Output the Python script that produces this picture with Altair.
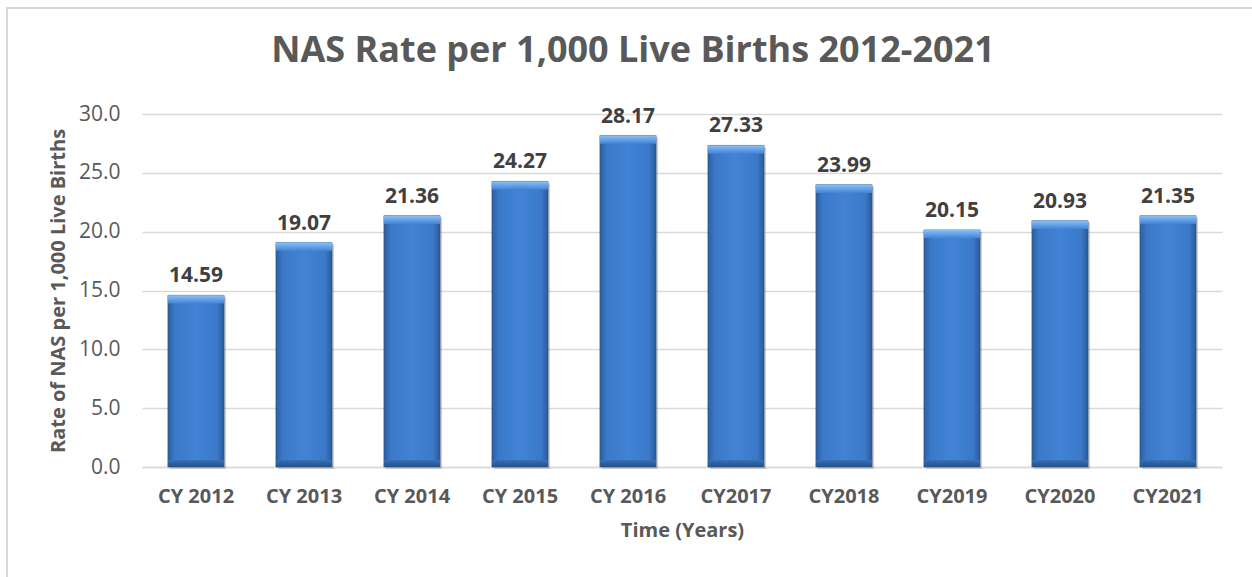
import altair as alt
import pandas as pd

# NAS rate per 1,000 live births, by calendar year
years = ["CY 2012", "CY 2013", "CY 2014", "CY 2015", "CY 2016",
         "CY2017", "CY2018", "CY2019", "CY2020", "CY2021"]
rates = [14.59, 19.07, 21.36, 24.27, 28.17, 27.33, 23.99, 20.15, 20.93, 21.35]
title_text = ["NAS Rate per 1,000 Live Births 2012-2021"]

df = pd.DataFrame({"year": years, "rate": rates})

FONT = "Open Sans"
GRAY = "#595959"

x_enc = alt.X(
    "year:N", sort=years,
    scale=alt.Scale(paddingInner=0.48, paddingOuter=0.24),
    axis=alt.Axis(title="Time (Years)", labelAngle=0, labelFontWeight="bold",
                  labelFontSize=20, labelColor=GRAY, labelPadding=19,
                  titleFontSize=20, titleColor=GRAY, titlePadding=14,
                  ticks=False, domainColor="#d9d9d9", domainWidth=1.5),
)
y_scale = alt.Scale(domain=[0, 30])
y_enc = alt.Y(
    "rate:Q", scale=y_scale,
    axis=alt.Axis(title="Rate of NAS per 1,000 Live Births", values=[0, 5, 10, 15, 20, 25, 30],
                  format=".1f", labelFontSize=21, labelColor=GRAY, labelPadding=22,
                  titleFontSize=20, titleColor=GRAY, titlePadding=10,
                  ticks=False, domain=False, gridColor="#d9d9d9", gridWidth=1.3),
)

base = alt.Chart(df)

# outer frame around the whole chart
frame = alt.Chart(pd.DataFrame({"k": [0]})).mark_rect(
    fill="transparent", stroke="#d9d9d9", strokeWidth=2
).encode(x=alt.value(-135), x2=alt.value(1200), y=alt.value(-106), y2=alt.value(600))

# chart heading, centred over the chart box
heading = alt.Chart(pd.DataFrame({"t": title_text})).mark_text(
    fontSize=36, fontWeight="bold", color=GRAY, font=FONT, align="center", baseline="middle"
).encode(x=alt.value(491), y=alt.value(-63), text="t:N")

shadow = base.mark_bar(color="#7f7f7f", opacity=0.35, xOffset=2, yOffset=2).encode(
    x=x_enc, y=y_enc
)

body = base.mark_bar(
    color=alt.Gradient(
        gradient="linear", x1=0, x2=1, y1=0, y2=0,
        stops=[
            alt.GradientStop(offset=0, color="#2c5e9e"),
            alt.GradientStop(offset=0.12, color="#3b79c8"),
            alt.GradientStop(offset=0.5, color="#4183d5"),
            alt.GradientStop(offset=0.88, color="#3b79c8"),
            alt.GradientStop(offset=1, color="#2a5896"),
        ],
    ),
    stroke="#2a5590", strokeWidth=0.6,
).encode(x=x_enc, y=y_enc)

# bevelled highlight across the top of each bar
cap = base.transform_calculate(cap_lo="datum.rate - 0.7").mark_bar(
    color=alt.Gradient(
        gradient="linear", x1=0, x2=0, y1=0, y2=1,
        stops=[
            alt.GradientStop(offset=0, color="#8cc0f5"),
            alt.GradientStop(offset=1, color="#4183d5"),
        ],
    ),
).encode(x=x_enc, y=alt.Y("rate:Q", scale=y_scale), y2="cap_lo:Q")

# darker band along the bottom of each bar
foot = base.transform_calculate(foot_lo="0", foot_hi="0.6").mark_bar(
    color=alt.Gradient(
        gradient="linear", x1=0, x2=0, y1=0, y2=1,
        stops=[
            alt.GradientStop(offset=0, color="#3670b8"),
            alt.GradientStop(offset=1, color="#274f86"),
        ],
    ),
).encode(x=x_enc, y=alt.Y("foot_hi:Q", scale=y_scale), y2="foot_lo:Q")

labels = base.mark_text(
    dy=-9, baseline="bottom", fontWeight="bold", fontSize=21, font=FONT, color="#404040"
).encode(x=x_enc, y=y_enc, text=alt.Text("rate:Q", format=".2f"))

chart = (
    alt.layer(frame, heading, shadow, body, cap, foot, labels)
    .properties(
        width=1080, height=353,
        autosize=alt.AutoSizeParams(type="none"),
        padding={"left": 142, "top": 114, "right": 30, "bottom": 110},
    )
    .configure(font=FONT)
    .configure_view(stroke=None)
)

chart.save("out.html", embed_options={"renderer": "svg", "actions": False})
